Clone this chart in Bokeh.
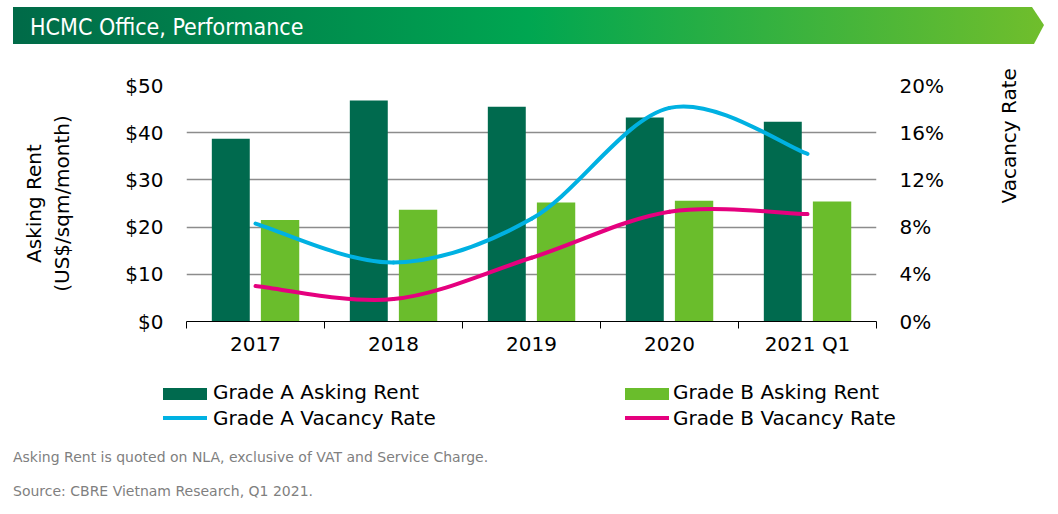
import math
from bokeh.plotting import figure
from bokeh.models import (Range1d, LinearAxis, FixedTicker, ColumnDataSource, Div)
from bokeh.layouts import column
from bokeh.transform import dodge
from bokeh.embed import file_html
from bokeh.resources import INLINE

# ---------------- data ----------------
categories = ["2017", "2018", "2019", "2020", "2021 Q1"]
grade_a_rent = [38.7, 46.8, 45.5, 43.2, 42.3]
grade_b_rent = [21.5, 23.7, 25.2, 25.6, 25.4]
grade_a_vacancy = [8.3, 5.0, 8.7, 18.1, 14.2]
grade_b_vacancy = [3.0, 1.9, 5.4, 9.3, 9.1]
rent_ticks = [0, 10, 20, 30, 40, 50]
rent_labels = ["$0", "$10", "$20", "$30", "$40", "$50"]
vac_ticks = [0, 4, 8, 12, 16, 20]
vac_labels = ["0%", "4%", "8%", "12%", "16%", "20%"]
series_names = ["Grade A Asking Rent", "Grade B Asking Rent",
                "Grade A Vacancy Rate", "Grade B Vacancy Rate"]
title_text = "HCMC Office, Performance"
notes = ["Asking Rent is quoted on NLA, exclusive of VAT and Service Charge.",
         "Source: CBRE Vietnam Research, Q1 2021."]

# ---------------- style ----------------
FONT = "DejaVu Sans"
DARK = "#006a4e"
LIGHT = "#6abd2c"
CYAN = "#00b1e2"
MAGENTA = "#e5007e"
GRID = "#8c8c8c"
W = 1058

# ---------------- banner (HTML) ----------------
banner_html = (
    '<div style="position:relative;width:1058px;height:50px;">'
    '<div style="position:absolute;left:13px;top:7px;width:1031px;height:37px;'
    'background:linear-gradient(to right,#006a48 0%,#00a651 50%,#70be2c 100%);'
    'clip-path:polygon(0 0,1019px 0,1031px 18px,1021px 37px,0 37px);"></div>'
    '<div style="position:absolute;left:30px;top:9px;height:37px;line-height:37px;'
    'color:white;font-family:\'DejaVu Sans\',sans-serif;font-stretch:condensed;'
    'font-size:23px;white-space:nowrap;">' + title_text + '</div></div>'
)
banner = Div(text=banner_html, width=W, height=50, margin=0)

# ---------------- main chart ----------------
xs = list(range(len(categories)))
src = ColumnDataSource(dict(x=xs, a=grade_a_rent, b=grade_b_rent))

p = figure(width=W, height=315, x_range=Range1d(-0.5, len(categories) - 0.5),
           y_range=Range1d(rent_ticks[0], rent_ticks[-1]),
           toolbar_location=None, output_backend="svg",
           min_border_left=186, min_border_right=182, min_border_top=35,
           min_border_bottom=44, margin=0)
p.outline_line_color = None
p.extra_y_ranges = {"vac": Range1d(vac_ticks[0], vac_ticks[-1])}

p.xgrid.visible = False
p.ygrid.ticker = FixedTicker(ticks=rent_ticks)
p.ygrid.grid_line_color = GRID
p.ygrid.grid_line_width = 1.6

p.vbar(x=dodge("x", -0.179, range=p.x_range), top="a", width=0.275,
       source=src, fill_color=DARK, line_color=None)
p.vbar(x=dodge("x", 0.178, range=p.x_range), top="b", width=0.278,
       source=src, fill_color=LIGHT, line_color=None)

def smooth(xv, yv, k=1.0 / 6.0):
    m = len(xv)
    d = dict(x0=[], y0=[], x1=[], y1=[], cx0=[], cy0=[], cx1=[], cy1=[])
    for i in range(m - 1):
        im = max(i - 1, 0)
        ip = min(i + 2, m - 1)
        d["x0"].append(xv[i]); d["y0"].append(yv[i])
        d["x1"].append(xv[i + 1]); d["y1"].append(yv[i + 1])
        d["cx0"].append(xv[i] + (xv[i + 1] - xv[im]) * k)
        d["cy0"].append(yv[i] + (yv[i + 1] - yv[im]) * k)
        d["cx1"].append(xv[i + 1] - (xv[ip] - xv[i]) * k)
        d["cy1"].append(yv[i + 1] - (yv[ip] - yv[i]) * k)
    return ColumnDataSource(d)

p.bezier(x0="x0", y0="y0", x1="x1", y1="y1", cx0="cx0", cy0="cy0", cx1="cx1",
         cy1="cy1", source=smooth(xs, grade_a_vacancy), y_range_name="vac",
         line_color=CYAN, line_width=4, line_cap="round")
p.bezier(x0="x0", y0="y0", x1="x1", y1="y1", cx0="cx0", cy0="cy0", cx1="cx1",
         cy1="cy1", source=smooth(xs, grade_b_vacancy), y_range_name="vac",
         line_color=MAGENTA, line_width=4, line_cap="round")

# x axis
xax = p.xaxis[0]
xax.ticker = FixedTicker(ticks=xs, minor_ticks=[i - 0.5 for i in range(len(xs) + 1)])
xax.major_label_overrides = {i: c for i, c in enumerate(categories)}
xax.major_tick_out = 0
xax.major_tick_in = 0
xax.major_tick_line_color = None
xax.minor_tick_in = 0
xax.minor_tick_out = 7
xax.minor_tick_line_color = "black"
xax.axis_line_color = "black"
xax.axis_line_width = 1
xax.major_label_standoff = 3
xax.major_label_text_font = FONT
xax.major_label_text_font_size = "20px"
xax.major_label_text_color = "black"

# left axis
yax = p.yaxis[0]
yax.ticker = FixedTicker(ticks=rent_ticks)
yax.major_label_overrides = {t: l for t, l in zip(rent_ticks, rent_labels)}
yax.axis_line_color = None
yax.major_tick_line_color = None
yax.minor_tick_line_color = None
yax.major_tick_out = 0
yax.major_tick_in = 0
yax.major_label_standoff = 23
yax.major_label_text_font = FONT
yax.major_label_text_font_size = "20px"
yax.major_label_text_color = "black"
yax.axis_label = "Asking Rent\n(US$/sqm/month)"
yax.axis_label_text_font = FONT
yax.axis_label_text_font_size = "20px"
yax.axis_label_text_font_style = "normal"
yax.axis_label_text_color = "black"
yax.axis_label_standoff = 48

# right axis
rax = LinearAxis(y_range_name="vac", ticker=FixedTicker(ticks=vac_ticks))
rax.major_label_overrides = {t: l for t, l in zip(vac_ticks, vac_labels)}
rax.axis_line_color = None
rax.major_tick_line_color = None
rax.minor_tick_line_color = None
rax.major_tick_out = 0
rax.major_tick_in = 0
rax.major_label_standoff = 23
rax.major_label_text_font = FONT
rax.major_label_text_font_size = "20px"
rax.major_label_text_color = "black"
rax.axis_label = "Vacancy Rate"
rax.axis_label_text_font = FONT
rax.axis_label_text_font_size = "20px"
rax.axis_label_text_font_style = "normal"
rax.axis_label_text_color = "black"
rax.axis_label_standoff = 62
rax.axis_label_orientation = math.pi / 2
rax.axis_label_text_align = "center"
p.add_layout(rax, "right")

# ---------------- legend (HTML) ----------------
def swatch(left, top, h, color):
    return ('<div style="position:absolute;left:%dpx;top:%dpx;width:44px;height:%dpx;'
            'background:%s;"></div>' % (left, top, h, color))

def label(left, top, txt):
    return ('<div style="position:absolute;left:%dpx;top:%dpx;line-height:26px;">%s</div>'
            % (left, top, txt))

legend_html = (
    '<div style="position:relative;width:1058px;height:75px;font-family:\'DejaVu Sans\',sans-serif;'
    'font-size:20px;color:black;white-space:nowrap;">'
    + swatch(163, 23, 12, DARK) + label(213, 14, series_names[0])
    + swatch(625, 23, 12, LIGHT) + label(673, 14, series_names[1])
    + swatch(163, 51, 4, CYAN) + label(213, 40, series_names[2])
    + swatch(625, 51, 4, MAGENTA) + label(673, 40, series_names[3])
    + '</div>'
)
legend_div = Div(text=legend_html, width=W, height=75, margin=0)

# ---------------- footer (HTML) ----------------
foot_html = (
    '<div style="position:relative;width:1058px;height:74px;font-family:\'DejaVu Sans\',sans-serif;'
    'font-size:14px;color:#7f7f7f;white-space:nowrap;">'
    '<div style="position:absolute;left:13px;top:7px;line-height:20px;">' + notes[0] + '</div>'
    '<div style="position:absolute;left:13px;top:41px;line-height:20px;">' + notes[1] + '</div>'
    '</div>'
)
foot = Div(text=foot_html, width=W, height=74, margin=0)

layout = column(banner, p, legend_div, foot, spacing=0)
open("out.html", "w").write(file_html(layout, INLINE))
